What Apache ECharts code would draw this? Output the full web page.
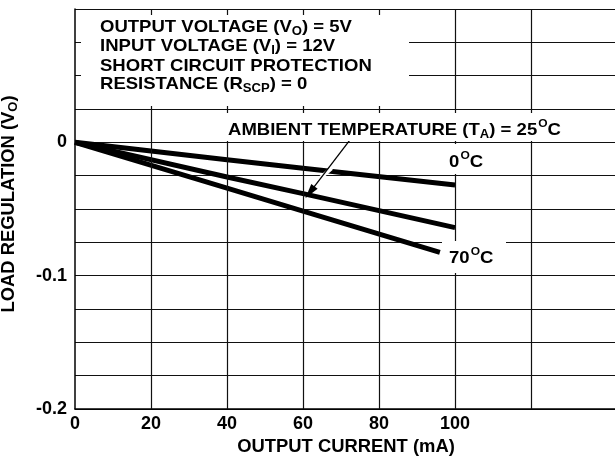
<!DOCTYPE html>
<html>
<head>
<meta charset="utf-8">
<script src="https://cdn.jsdelivr.net/npm/echarts@6/dist/echarts.min.js"></script>
<style>
html,body{margin:0;padding:0;background:#fff;}
#c{width:615px;height:460px;}
</style>
</head>
<body>
<div id="c"></div>
<script>
// ---- data ----
const current0C  = [0, 40, 60, 100];
const reg0C      = [0, -0.013, -0.0195, -0.032];
const current25C = [0, 40, 60, 100];
const reg25C     = [0, -0.026, -0.0385, -0.064];
const current70C = [0, 40, 60, 96];
const reg70C     = [0, -0.0343, -0.0516, -0.0825];
const xTickLabels = [0, 20, 40, 60, 80, 100];
const xGridLines  = [20, 40, 60, 80, 100, 120];
const yTickLabels = [0, -0.1, -0.2];

const FONT = 'Liberation Sans';
const pair = (xs, ys) => xs.map((x, i) => [x, ys[i]]);

const chart = echarts.init(document.getElementById('c'), null, {renderer: 'canvas'});

const tickFont = {fontFamily: FONT, fontWeight: 'bold', fontSize: 18, color: '#000'};
const nameFont = {fontFamily: FONT, fontWeight: 'bold', fontSize: 18.4, color: '#000'};
const richBase = {
  b: {fontFamily: FONT, fontWeight: 'bold', fontSize: 17, color: '#000', lineHeight: 19},
  s: {fontFamily: FONT, fontWeight: 'bold', fontSize: 12, color: '#000', lineHeight: 19, padding: [9, 0, 0, 0]},
  p: {fontFamily: FONT, fontWeight: 'bold', fontSize: 11, color: '#000', lineHeight: 19, padding: [0, 0, 13, 1]}
};
const richName = {
  b: {fontFamily: FONT, fontWeight: 'bold', fontSize: 18.4, color: '#000', lineHeight: 20},
  s: {fontFamily: FONT, fontWeight: 'bold', fontSize: 13, color: '#000', lineHeight: 20, padding: [9, 0, 0, 0]}
};

function txt(x, y, text) {
  return {type: 'text', x: x, y: y, z: 120, silent: true, scaleX: 1.09, scaleY: 1,
    style: {text: text, rich: richBase, align: 'left', verticalAlign: 'middle'}};
}
function mask(x, y, w, h) {
  return {type: 'rect', z: 110, silent: true, shape: {x: x, y: y, width: w, height: h},
    style: {fill: '#fff'}};
}

const lineStyleCurve = {color: '#000', width: 5, cap: 'butt', join: 'round'};

const option = {
  animation: false,
  backgroundColor: '#fff',
  grid: {left: 75, top: 9, width: 542, height: 400, containLabel: false, outerBoundsMode: 'none'},
  xAxis: {
    type: 'value', min: 0, max: 142.6, interval: 20,
    axisLine: {show: true, onZero: false, lineStyle: {color: '#000', width: 1.5}},
    axisTick: {show: false},
    splitLine: {show: false},
    axisLabel: Object.assign({}, tickFont, {
      margin: 6,
      formatter: v => (xTickLabels.indexOf(Math.round(v)) >= 0 && Math.abs(v - Math.round(v)) < 1e-6) ? String(Math.round(v)) : ''
    }),
    name: 'OUTPUT CURRENT (mA)', nameLocation: 'middle', nameGap: 24,
    nameTextStyle: nameFont
  },
  yAxis: {
    type: 'value', min: -0.2, max: 0.1, interval: 0.025,
    axisLine: {show: true, onZero: false, lineStyle: {color: '#000', width: 1.5}},
    axisTick: {show: false},
    splitLine: {show: true, lineStyle: {color: '#111', width: 1.2}},
    axisLabel: Object.assign({}, tickFont, {
      margin: 8, padding: [0, 0, 13, 0],
      formatter: v => {
        const r = Math.round(v * 1000) / 1000;
        return yTickLabels.indexOf(r) >= 0 ? (r === 0 ? '0' : r.toFixed(1)) : '';
      }
    }),
    name: '{b|LOAD REGULATION (V}{s|O}{b|)}', nameLocation: 'middle', nameGap: 56,
    nameTextStyle: {rich: richName, padding: [0, 0, 0, 10]}
  },
  series: [
    {
      type: 'line', data: [], silent: true, z: 1,
      markLine: {
        silent: true, symbol: 'none', animation: false,
        label: {show: false},
        lineStyle: {color: '#111', width: 1.2, type: 'solid'},
        data: xGridLines.map(v => ({xAxis: v}))
      }
    },
    {type: 'line', name: '0°C', data: pair(current0C, reg0C), showSymbol: false, symbol: 'none', lineStyle: lineStyleCurve, z: 3, silent: true},
    {type: 'line', name: '25°C', data: pair(current25C, reg25C), showSymbol: false, symbol: 'none', lineStyle: lineStyleCurve, z: 3, silent: true},
    {type: 'line', name: '70°C', data: pair(current70C, reg70C), showSymbol: false, symbol: 'none', lineStyle: lineStyleCurve, z: 3, silent: true},
    {
      type: 'line', data: [], silent: true, z: 200, zlevel: 1,
      markLine: {
        silent: true, animation: false, label: {show: false},
        lineStyle: {type: 'solid'},
        data: [
          [{coord: [67.5, -0.0195], symbol: 'none', lineStyle: {color: '#fff', width: 4, type: 'solid'}},
           {coord: [64.6, -0.0265], symbol: 'none'}],
          [{coord: [72.4, 0.002], symbol: 'none', lineStyle: {color: '#000', width: 1.3, type: 'solid'}},
           {coord: [61.8, -0.0375], symbol: 'triangle', symbolSize: [8, 15]}]
        ]
      }
    }
  ],
  graphic: [
    mask(81, 15, 328, 91),
    mask(225, 113, 342, 28),
    mask(446, 144, 40, 30),
    mask(442, 241, 64, 32),
    txt(100, 27.5, '{b|OUTPUT VOLTAGE (V}{s|O}{b|) = 5V}'),
    txt(100, 46.5, '{b|INPUT VOLTAGE (V}{s|I}{b|) = 12V}'),
    txt(100, 66, '{b|SHORT CIRCUIT PROTECTION}'),
    txt(100, 84.5, '{b|RESISTANCE (R}{s|SCP}{b|) = 0}'),
    txt(228, 130, '{b|AMBIENT TEMPERATURE (T}{s|A}{b|) = 25}{p|O}{b|C}'),
    txt(449, 162, '{b|0}{p|O}{b|C}'),
    txt(449, 258, '{b|70}{p|O}{b|C}')
  ]
};
chart.setOption(option);
</script>
</body>
</html>
